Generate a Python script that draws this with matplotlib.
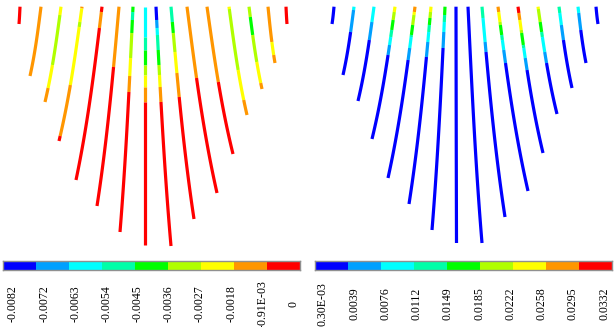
import numpy as np
import matplotlib
matplotlib.use("Agg")
import matplotlib.pyplot as plt
from matplotlib.colors import ListedColormap
from matplotlib.transforms import blended_transform_factory

# 9 contour levels, blue -> red
level_colors = ["#0000FF", "#00A0FF", "#00FFFF", "#00FFA8", "#00FF00",
                "#B0FF00", "#FFFF00", "#FF9600", "#FF0000"]

left_labels = ["-0.0082", "-0.0072", "-0.0063", "-0.0054", "-0.0045",
               "-0.0036", "-0.0027", "-0.0018", "-0.91E-03", "0"]
right_labels = ["0.30E-03", "0.0039", "0.0076", "0.0112", "0.0149",
                "0.0185", "0.0222", "0.0258", "0.0295", "0.0332"]

top_y = 6.7
bend = 0.2

# left fan: top x, bottom x, bottom depth, colour breaks (depth) and levels
left_top_x = [20, 41, 61, 82, 102, 119, 133, 145, 156, 171, 187, 207, 229, 249, 268, 286]
left_end_x = [19, 30, 45, 59, 76, 97, 120, 145, 171, 194, 217, 233, 247, 262, 275, 287]
left_end_y = [24, 76, 102, 141, 180, 206, 232, 245, 246, 219, 193, 154, 115, 89, 63, 24]
left_breaks = [[], [], [15, 65, 88], [8.5, 22, 27, 85, 136], [12, 28], [67],
               [12, 20, 33, 58, 76, 92], [37, 50, 65, 75, 87, 102],
               [20, 28, 35, 50, 65, 75, 87, 102], [22, 33, 52, 73, 97],
               [78], [82], [9, 70, 100], [17, 35, 62, 83], [42, 55], []]
left_levels = [[8], [7], [6, 5, 6, 7], [7, 6, 5, 6, 7, 8], [8, 7, 8], [7, 8],
               [4, 3, 4, 5, 6, 7, 8], [2, 3, 4, 5, 6, 7, 8],
               [0, 1, 2, 3, 4, 5, 6, 7, 8], [3, 4, 5, 6, 7, 8],
               [7, 8], [7, 8], [6, 5, 6, 7], [5, 4, 5, 6, 7], [7, 6, 7], [8]]

# right fan
right_top_x = [334, 354, 374, 395, 415, 431, 445, 456, 468, 482, 498, 518, 538, 559, 578, 596]
right_end_x = [332, 343, 358, 372, 388, 409, 432, 456.5, 482, 505, 528, 543, 557, 572, 586, 598]
right_end_y = [24, 75, 101, 139, 178, 204, 230, 243, 243, 217, 191, 153, 114, 88, 63, 24]
right_breaks = [[], [10, 32], [22, 40], [12, 20, 30, 37, 45, 55],
                [12, 15, 25, 35, 37, 48, 60], [12, 18, 25, 32, 42, 57],
                [15, 22, 32, 48], [], [], [18, 42, 52],
                [12, 22, 25, 35, 40, 50, 63], [13, 20, 30, 33, 45, 48, 58, 70],
                [9, 22, 32, 37, 52, 63], [13, 25, 40], [13, 30], []]
right_levels = [[0], [2, 1, 0], [2, 1, 0], [6, 5, 4, 3, 2, 1, 0],
                [7, 6, 5, 4, 3, 2, 1, 0], [6, 5, 4, 3, 2, 1, 0],
                [4, 3, 2, 1, 0], [0], [0], [3, 2, 1, 0],
                [7, 6, 5, 4, 3, 2, 1, 0], [8, 7, 6, 5, 4, 3, 2, 1, 0],
                [6, 5, 4, 3, 2, 1, 0], [3, 2, 1, 0], [2, 1, 0], [0]]

W, H = 615, 327
fig = plt.figure(figsize=(W / 100, H / 100), dpi=100)


def draw_fan(ax, tops, ends, depths, breaks, levels):
    for x0, x1, y1, br, lv in zip(tops, ends, depths, breaks, levels):
        edges = [top_y] + list(br) + [y1]
        for k, lev in enumerate(lv):
            lo, hi = edges[k], edges[k + 1]
            tt = np.linspace((lo - top_y) / (y1 - top_y), (hi - top_y) / (y1 - top_y), 30)
            yy = top_y + (y1 - top_y) * tt
            xx = x0 + (x1 - x0) * ((1 - bend) * tt + bend * tt ** 3)
            ax.plot(xx, yy, color=level_colors[lev], lw=2.3, solid_capstyle="butt")


ax_l = fig.add_axes([0, 0, 0.5, 1])
ax_l.set_xlim(0, W / 2)
ax_l.set_ylim(H, 0)
ax_l.axis("off")
draw_fan(ax_l, left_top_x, left_end_x, left_end_y, left_breaks, left_levels)

ax_r = fig.add_axes([0.5, 0, 0.5, 1])
ax_r.set_xlim(W / 2, W)
ax_r.set_ylim(H, 0)
ax_r.axis("off")
draw_fan(ax_r, right_top_x, right_end_x, right_end_y, right_breaks, right_levels)

cmap = ListedColormap(level_colors)


def draw_bar(x_left, labels, first, last):
    cax = fig.add_axes([x_left / W, (H - 270) / H, 297 / W, 9.5 / H])
    cax.imshow(np.arange(9).reshape(1, -1), cmap=cmap, aspect="auto",
               extent=[0, 9, 0, 1], interpolation="nearest")
    cax.set_xlim(0, 9)
    cax.set_xticks([])
    cax.set_yticks([])
    for s in cax.spines.values():
        s.set_color("#909090")
        s.set_linewidth(1.0)
    tr = blended_transform_factory(cax.transData, fig.transFigure)
    for pos, lab in zip(np.linspace(first, last, len(labels)), labels):
        cax.text(pos, (H - 304) / H, lab, transform=tr, rotation=90,
                 ha="center", va="center", fontsize=8.6,
                 family="Liberation Serif", color="black")


draw_bar(3, left_labels, 0.3, 8.8)
draw_bar(315, right_labels, 0.24, 8.76)

fig.savefig("out.png", dpi=100)
